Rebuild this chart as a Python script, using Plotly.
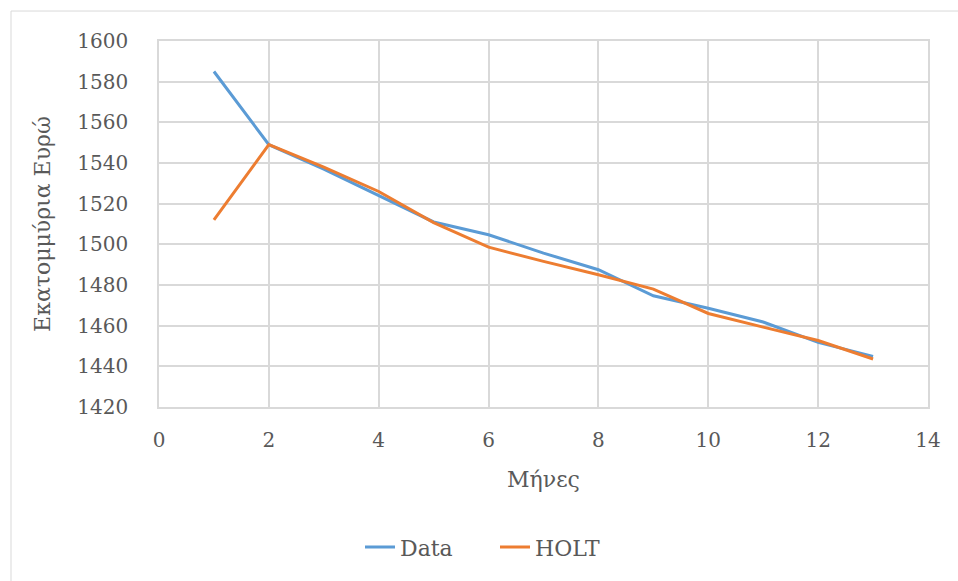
import plotly.graph_objects as go

months = [1, 2, 3, 4, 5, 6, 7, 8, 9, 10, 11, 12, 13]
data_vals = [1585, 1549, 1537, 1524, 1511, 1504.7, 1495.7, 1487.5, 1474.7, 1468.6, 1461.8, 1451.8, 1444.9]
holt_vals = [1512, 1549, 1538, 1526, 1510.7, 1498.6, 1491.6, 1485, 1478, 1466, 1459.3, 1452.7, 1443.6]
x_ticks = [0, 2, 4, 6, 8, 10, 12, 14]
y_ticks = [1420, 1440, 1460, 1480, 1500, 1520, 1540, 1560, 1580, 1600]

FONT = "DejaVu Serif"
TXT = "#595959"
GRID = "#d9d9d9"
F_TICK = dict(family=FONT, size=20, color=TXT)
F_TITLE = dict(family=FONT, size=22, color=TXT)
F_LEG = dict(family=FONT, size=22, color=TXT)

fig = go.Figure()
fig.add_trace(go.Scatter(x=months, y=data_vals, mode="lines", name="Data",
                         line=dict(color="#5b9bd5", width=3)))
fig.add_trace(go.Scatter(x=months, y=holt_vals, mode="lines", name="HOLT",
                         line=dict(color="#ed7d31", width=3)))

L, R, T, B = 159, 30, 41, 173.5
W, H = 958, 581
pw, ph = W - L - R, H - T - B

def px_to_paper_x(p):
    return (p - L) / pw

def px_to_paper_y(p):
    return (H - B - p) / ph

fig.add_shape(type="rect", xref="paper", yref="paper", layer="below",
              x0=px_to_paper_x(11), x1=px_to_paper_x(975),
              y0=px_to_paper_y(600), y1=px_to_paper_y(11),
              line=dict(color="#d9d9d9", width=1), fillcolor="rgba(0,0,0,0)")

fig.update_layout(
    width=W, height=H,
    margin=dict(l=L, r=R, t=T, b=B, pad=0),
    paper_bgcolor="white", plot_bgcolor="white",
    font=F_TICK,
    showlegend=True,
    legend=dict(orientation="h", x=px_to_paper_x(495), xanchor="center", y=px_to_paper_y(548),
                yanchor="middle", font=F_LEG, itemwidth=30, traceorder="normal",
                entrywidth=90),
    xaxis=dict(range=[0, 14], tickvals=x_ticks, showgrid=True, gridcolor=GRID, gridwidth=1.5,
               showline=True, linecolor=GRID, linewidth=1.5, mirror=True, zeroline=False,
               ticks="", ticklabelstandoff=14, tickfont=F_TICK,
               title=dict(text="Μήνες", font=F_TITLE, standoff=21)),
    yaxis=dict(range=[1420, 1600], tickvals=y_ticks, showgrid=True, gridcolor=GRID, gridwidth=1.5,
               showline=True, linecolor=GRID, linewidth=1.5, mirror=True, zeroline=False,
               ticks="", ticklabelstandoff=25, tickfont=F_TICK,
               title=dict(text="Εκατομμύρια Ευρώ", font=F_TITLE, standoff=21)),
)

fig.write_html("out.html")
